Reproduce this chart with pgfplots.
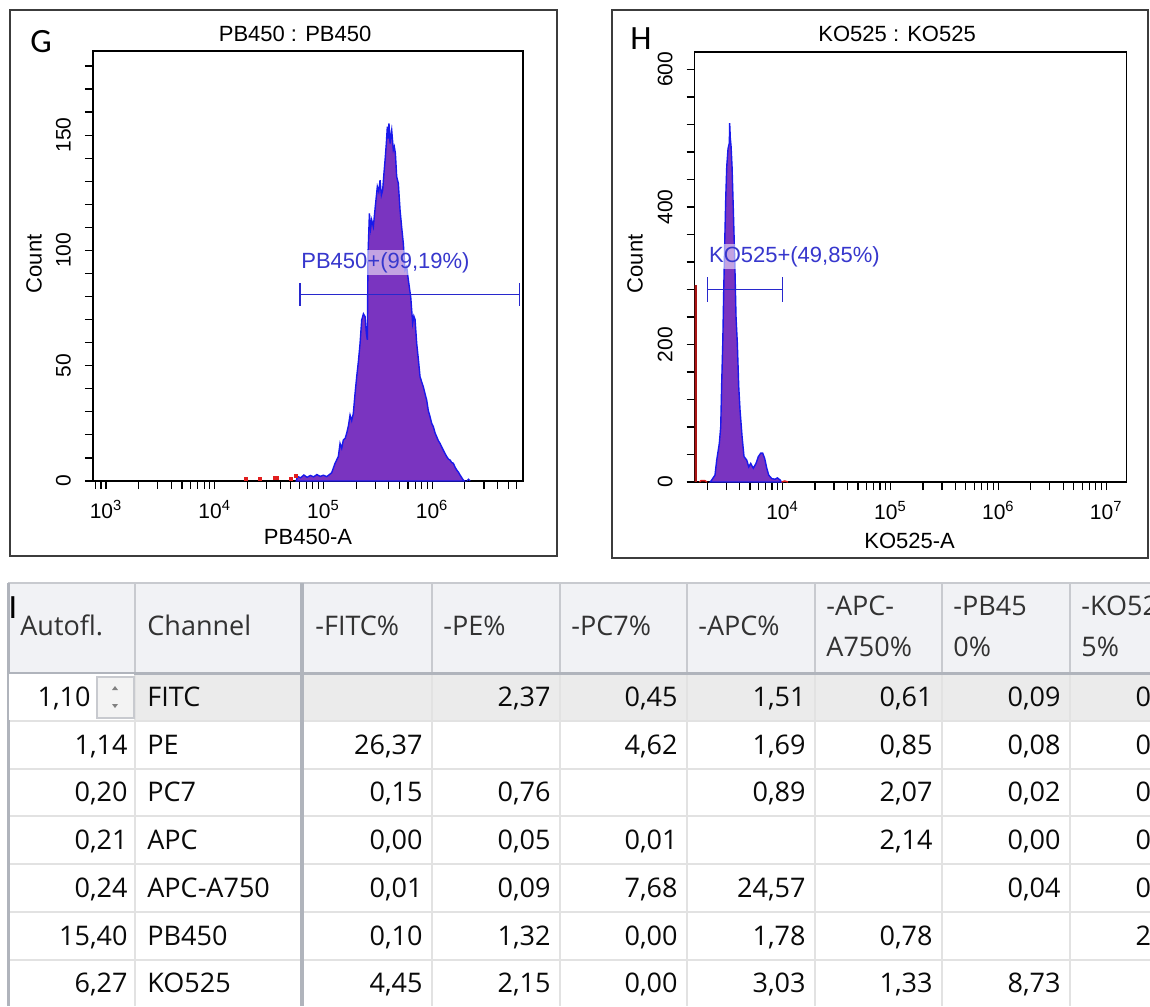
\documentclass[border=0pt]{standalone}
\usepackage{pgfplots}
\pgfplotsset{compat=1.18}
\usepackage{fontspec}
\setmainfont{Liberation Sans}
\newfontfamily\tablefont{Open Sans}
\newfontfamily\letterfont{Carlito}
\definecolor{histfill}{RGB}{122,52,192}
\definecolor{histline}{RGB}{25,25,235}
\definecolor{gateblue}{RGB}{40,40,205}
\definecolor{gatetext}{RGB}{55,55,205}
\definecolor{framegray}{RGB}{60,60,60}
\definecolor{hdrbg}{RGB}{241,242,245}
\definecolor{rowsel}{RGB}{235,235,235}
\definecolor{gridlight}{RGB}{226,226,226}
\definecolor{griddark}{RGB}{176,180,188}
\definecolor{hdrsep}{RGB}{200,202,207}
\definecolor{hdrtext}{RGB}{50,50,50}
\definecolor{celltext}{RGB}{10,10,10}
\definecolor{darkred}{RGB}{170,20,20}
\definecolor{dotred}{RGB}{225,30,30}
\pgfplotsset{flowax/.style={
  scale only axis, anchor=south west,
  axis line style={line width=0.75pt, black},
  tick align=outside, tick pos=left,
  major tick length=4pt, minor tick length=4pt,
  every tick/.style={black, line width=0.6pt},
  ticklabel style={font=\fontsize{10.5}{12}\selectfont},
  /pgf/number format/assume math mode=true,
  yticklabel style={rotate=90, anchor=south},
  yticklabel shift=3.5pt, xticklabel shift=2pt,
  title style={font=\fontsize{11}{13}\selectfont, anchor=center, yshift=-6pt},
  label style={font=\fontsize{11}{13}\selectfont},
  xlabel style={anchor=center},
  ylabel style={anchor=center},
}}
\newcommand\rc[3]{\node[anchor=base east, inner sep=0pt, text=celltext] at (#1,#2) {#3};}
\newcommand\lc[3]{\node[anchor=base west, inner sep=0pt, text=celltext] at (#1,#2) {#3};}
\newcommand\hc[3]{\node[anchor=base west, inner sep=0pt, text=hdrtext] at (#1,#2) {#3};}
\begin{document}
\begin{tikzpicture}
\path[use as bounding box] (0pt,0pt) rectangle (575pt,-503pt);
\fill[white] (0pt,0pt) rectangle (575pt,-503pt);
\clip (0pt,0pt) rectangle (575pt,-503pt);
\begin{scope}[x=0.5pt,y=-0.5pt]
% panel frames
\draw[framegray, line width=0.75pt] (10,10) rectangle (557,556);
\draw[framegray, line width=0.75pt] (612,10) rectangle (1148,558);
\node[font=\letterfont\fontsize{17}{19}\selectfont] at (41,42) {G};
\node[font=\letterfont\fontsize{17}{19}\selectfont] at (641,39) {H};
% table backgrounds
\fill[hdrbg] (8,583) rectangle (1200,673);
\fill[rowsel] (135,673) rectangle (1200,721);
% data grid
\foreach \yy in {721,768.5,816,864,912,959.5} {\draw[gridlight, line width=1pt] (8,\yy) -- (1200,\yy);}
\foreach \xx in {135,432,560,687,815,942,1070} {\draw[gridlight, line width=1pt] (\xx,673) -- (\xx,1006);}
\foreach \xx in {135,432,560,687,815,942,1070} {\draw[hdrsep, line width=1pt] (\xx,583) -- (\xx,673);}
\draw[hdrsep, line width=1pt] (8,583) -- (1200,583);
\draw[griddark, line width=1.5pt] (8,673) -- (1200,673);
\draw[griddark, line width=2pt] (302,583) -- (302,1006);
\draw[griddark, line width=1.5pt] (8,583) -- (8,1006);
% spinner
\fill[white] (9,674) rectangle (134,720);
\draw[hdrsep, line width=0.75pt, fill=rowsel!60] (97,677) rectangle (134,718);
\fill[gray] (112,690) -- (118,690) -- (115,686) -- cycle;
\fill[gray] (112,704) -- (118,704) -- (115,708) -- cycle;
\node[font=\letterfont\fontsize{17}{19}\selectfont, inner sep=0pt] at (13,608) {I};
% table text
\begin{scope}[font=\tablefont\fontsize{13.5}{15}\selectfont]
\hc{20}{635}{Autofl.}
\hc{147}{635}{Channel}
\hc{315}{635}{-FITC\%}
\hc{443}{635}{-PE\%}
\hc{571}{635}{-PC7\%}
\hc{698}{635}{-APC\%}
\hc{826}{615}{-APC-}\hc{826}{656}{A750\%}
\hc{953}{615}{-PB45}\hc{953}{656}{0\%}
\hc{1081}{615}{-KO52}\hc{1081}{656}{5\%}
% rows
\rc{91}{706}{1,10}\lc{147}{706}{FITC}\rc{551}{706}{2,37}\rc{678}{706}{0,45}\rc{806}{706}{1,51}\rc{933}{706}{0,61}\rc{1061}{706}{0,09}\rc{1189}{706}{0,00}
\rc{128}{754}{1,14}\lc{147}{754}{PE}\rc{423}{754}{26,37}\rc{678}{754}{4,62}\rc{806}{754}{1,69}\rc{933}{754}{0,85}\rc{1061}{754}{0,08}\rc{1189}{754}{0,00}
\rc{128}{801.5}{0,20}\lc{147}{801.5}{PC7}\rc{423}{801.5}{0,15}\rc{551}{801.5}{0,76}\rc{806}{801.5}{0,89}\rc{933}{801.5}{2,07}\rc{1061}{801.5}{0,02}\rc{1189}{801.5}{0,00}
\rc{128}{849}{0,21}\lc{147}{849}{APC}\rc{423}{849}{0,00}\rc{551}{849}{0,05}\rc{678}{849}{0,01}\rc{933}{849}{2,14}\rc{1061}{849}{0,00}\rc{1189}{849}{0,00}
\rc{128}{897}{0,24}\lc{147}{897}{APC-A750}\rc{423}{897}{0,01}\rc{551}{897}{0,09}\rc{678}{897}{7,68}\rc{806}{897}{24,57}\rc{1061}{897}{0,04}\rc{1189}{897}{0,00}
\rc{128}{945}{15,40}\lc{147}{945}{PB450}\rc{423}{945}{0,10}\rc{551}{945}{1,32}\rc{678}{945}{0,00}\rc{806}{945}{1,78}\rc{933}{945}{0,78}\rc{1189}{945}{2,00}
\rc{128}{992}{6,27}\lc{147}{992}{KO525}\rc{423}{992}{4,45}\rc{551}{992}{2,15}\rc{678}{992}{0,00}\rc{806}{992}{3,03}\rc{933}{992}{1,33}\rc{1061}{992}{8,73}
\end{scope}
\end{scope}

% ---------- G ----------
\begin{axis}[flowax, at={(46.5pt,-240.5pt)}, width=215pt, height=215pt,
  xmin=2.88, xmax=6.836, ymin=0, ymax=186.5,
  xtick={3,4,5,6},
  xticklabels={10\textsuperscript{3},10\textsuperscript{4},10\textsuperscript{5},10\textsuperscript{6}},
  minor xtick={2.903,2.954,3.301,3.477,3.602,3.699,3.778,3.845,3.903,3.954,4.301,4.477,4.602,4.699,4.778,4.845,4.903,4.954,5.301,5.477,5.602,5.699,5.778,5.845,5.903,5.954,6.301,6.477,6.602,6.699,6.778},
  ytick={0,50,100,150},
  minor ytick={10,20,30,40,60,70,80,90,110,120,130,140,160,170,180},
  title={PB450 : PB450}, title style={at={(axis description cs:0.47,1.04)}},
  xlabel={PB450-A}, xlabel style={at={(axis description cs:0.5,-0.131)}},
  ylabel={Count}, ylabel style={at={(axis description cs:-0.137,0.505)}},
]
\addplot[histline, line width=0.7pt, fill=histfill] coordinates {
(4.75,0) (4.76,2) (4.79,1.4) (4.82,2.6) (4.85,1.6) (4.88,2.4) (4.91,1.8) (4.94,2.8) (4.97,2.0) (5.00,2.5) (5.03,1.9) (5.05,2.6) (5.076,3.6) (5.107,7.7) (5.137,10.6) (5.153,16.3) (5.168,14.2) (5.183,17.8) (5.20,18.5) (5.214,20.7) (5.23,24.0) (5.245,28.6) (5.26,26.2) (5.275,29.3) (5.29,37.5) (5.306,45.2) (5.322,52.0) (5.337,59.7) (5.352,69.8) (5.368,72.5) (5.383,71.3) (5.395,64.0) (5.404,61.2) (5.410,98.0) (5.423,116.1) (5.434,109.5) (5.444,113.2) (5.459,110.3) (5.477,119.0) (5.496,127.7) (5.509,125.5) (5.521,130.5) (5.533,124.0) (5.545,126.2) (5.556,133.0) (5.567,139.2) (5.578,146.0) (5.588,153.7) (5.596,148.5) (5.603,155.1) (5.613,146.4) (5.621,150.0) (5.628,152.2) (5.643,143.6) (5.652,145.0) (5.662,142.1) (5.674,132.0) (5.689,129.1) (5.705,117.5) (5.72,110.0) (5.735,103.1) (5.751,91.5) (5.766,93.0) (5.781,87.2) (5.803,79.9) (5.821,68.4) (5.832,71.5) (5.843,70.0) (5.858,59.7) (5.874,52.5) (5.889,45.2) (5.904,43.0) (5.919,40.9) (5.935,37.8) (5.950,35.1) (5.965,30.5) (5.981,27.9) (5.996,25.0) (6.011,23.6) (6.026,21.0) (6.042,19.2) (6.057,17.5) (6.073,16.3) (6.088,14.8) (6.103,13.4) (6.118,12.0) (6.134,10.6) (6.150,9.5) (6.165,9.1) (6.180,8.0) (6.195,7.7) (6.211,6.0) (6.226,4.8) (6.242,3.8) (6.257,2.6) (6.272,1.5) (6.287,0.4) (6.30,0)
} \closedcycle;
\addplot[histline, line width=0.6pt] coordinates {(6.32,0) (6.335,0.8) (6.35,0)};
\addplot[only marks, mark=square*, mark size=0.8pt, dotred] coordinates {(4.285,0.8) (4.417,0.8) (4.555,1.5) (4.571,1.2) (4.70,1.0) (4.748,2.2)};
\draw[gateblue, line width=0.7pt] (axis cs:4.785,81) -- (axis cs:6.805,81);
\draw[gateblue, line width=0.7pt] (axis cs:4.785,76) -- (axis cs:4.785,86);
\draw[gateblue, line width=0.7pt] (axis cs:6.805,76) -- (axis cs:6.805,86);
\node[anchor=west, inner sep=1pt, fill=white, fill opacity=0.55, text opacity=1, text=gatetext, font=\fontsize{11}{13}\selectfont] at (axis cs:4.775,94.8) {PB450+(99,19\%)};
\end{axis}

% ---------- H ----------
\begin{axis}[flowax, at={(347.35pt,-241pt)}, width=215.8pt, height=215.1pt,
  xmin=3.186, xmax=7.186, ymin=0, ymax=625.7,
  xtick={4,5,6,7},
  xticklabels={10\textsuperscript{4},10\textsuperscript{5},10\textsuperscript{6},10\textsuperscript{7}},
  minor xtick={3.301,3.477,3.602,3.699,3.778,3.845,3.903,3.954,4.301,4.477,4.602,4.699,4.778,4.845,4.903,4.954,5.301,5.477,5.602,5.699,5.778,5.845,5.903,5.954,6.301,6.477,6.602,6.699,6.778,6.845,6.903,6.954},
  ytick={0,200,400,600},
  minor ytick={40,80,120,160,240,280,320,360,440,480,520,560},
  title={KO525 : KO525}, title style={at={(axis description cs:0.469,1.041)}},
  xlabel={KO525-A}, xlabel style={at={(axis description cs:0.498,-0.137)}},
  ylabel={Count}, ylabel style={at={(axis description cs:-0.138,0.507)}},
]
\addplot[histline, line width=0.7pt, fill=histfill] coordinates {
(3.33,0) (3.344,3) (3.374,10) (3.390,32) (3.414,56) (3.427,80) (3.436,143) (3.446,202) (3.455,279) (3.464,347) (3.474,415) (3.483,459) (3.495,485) (3.507,493) (3.510,522) (3.516,500) (3.523,488) (3.532,459) (3.544,396) (3.557,323) (3.569,240) (3.581,202) (3.594,139) (3.606,105) (3.625,66) (3.643,37) (3.668,32) (3.687,22) (3.705,27) (3.729,20) (3.754,27) (3.776,37) (3.798,42) (3.816,42) (3.835,34) (3.854,20) (3.872,10) (3.900,5) (3.930,4) (3.952,6) (3.977,3) (3.99,0)
} \closedcycle;
\addplot[darkred, line width=1.6pt] coordinates {(3.195,0) (3.195,287)};
\addplot[dotred, line width=0.7pt] coordinates {(3.23,0) (3.245,2) (3.28,2) (3.30,0)};
\addplot[dotred, line width=0.7pt] coordinates {(3.99,0) (4.02,1.5) (4.05,0)};
\draw[gateblue, line width=0.7pt] (axis cs:3.307,280) -- (axis cs:3.998,280);
\draw[gateblue, line width=0.7pt] (axis cs:3.307,262) -- (axis cs:3.307,298);
\draw[gateblue, line width=0.7pt] (axis cs:3.998,262) -- (axis cs:3.998,298);
\node[anchor=west, inner sep=1pt, fill=white, fill opacity=0.55, text opacity=1, text=gatetext, font=\fontsize{11}{13}\selectfont] at (axis cs:3.297,328) {KO525+(49,85\%)};
\end{axis}
\end{tikzpicture}
\end{document}
